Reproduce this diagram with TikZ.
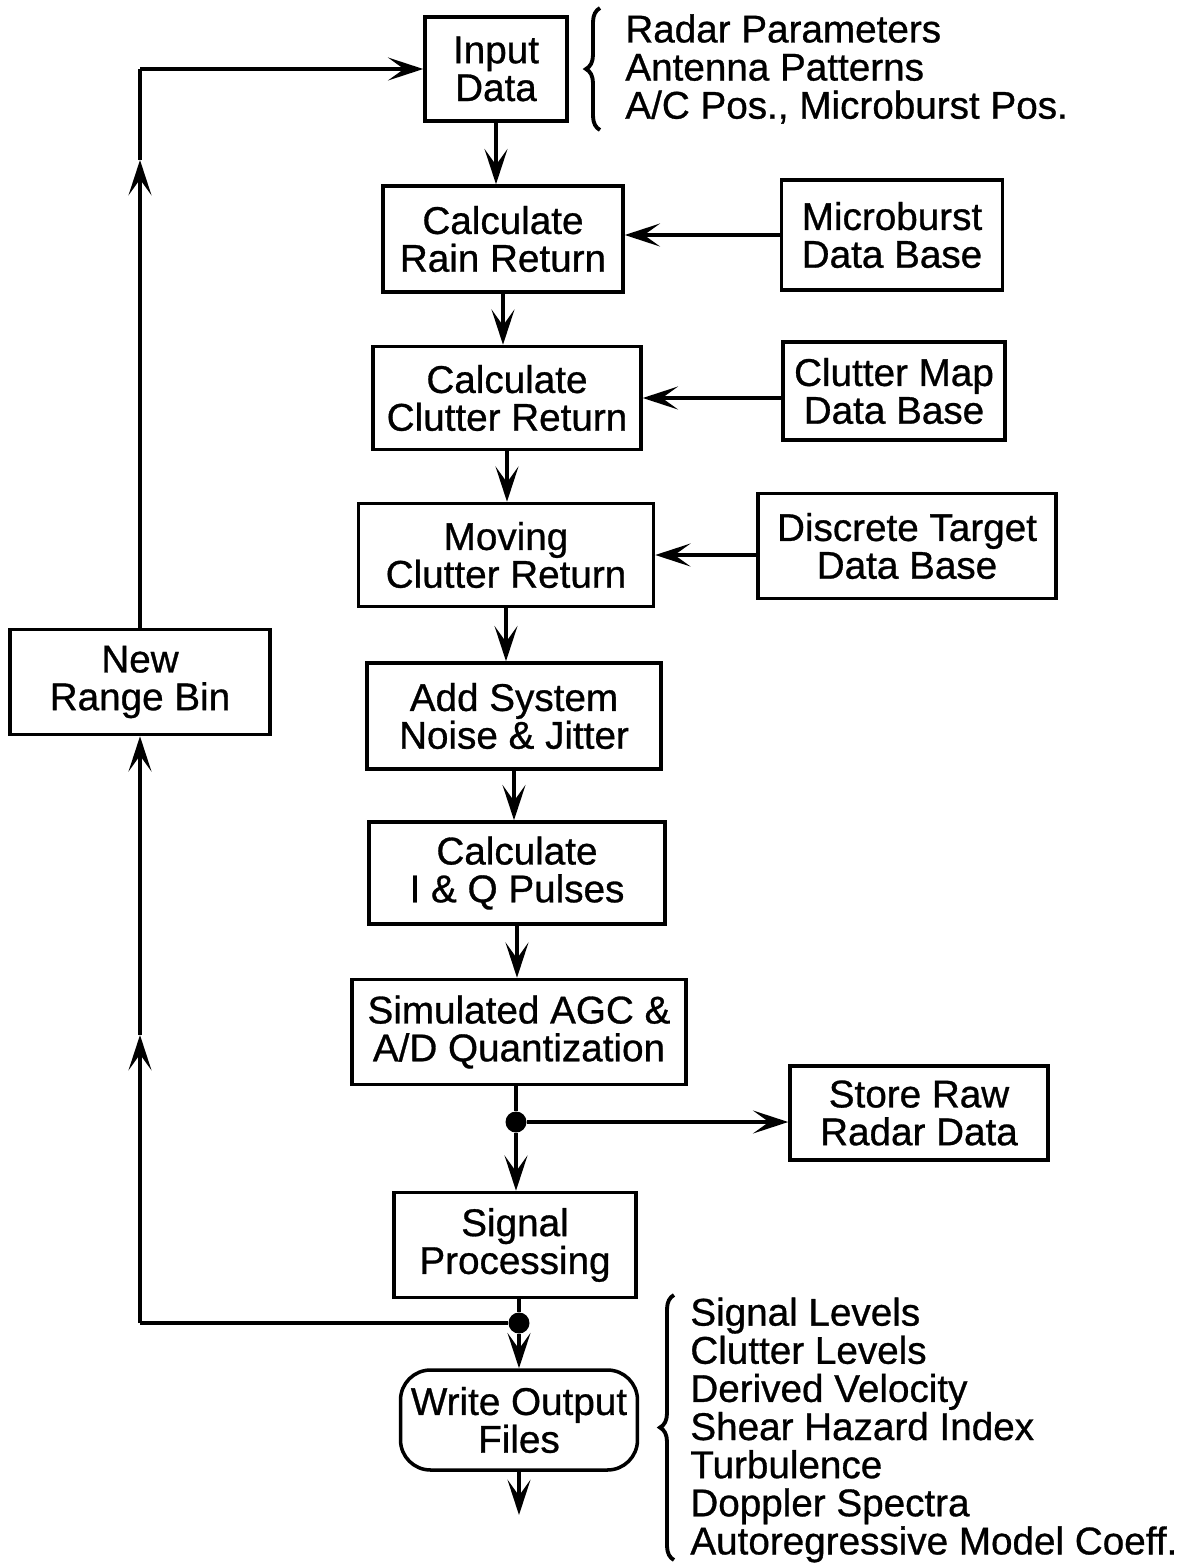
\documentclass[tikz,border=0pt]{standalone}
\usepackage{fontspec}
\setmainfont{Liberation Sans}[FakeBold=0.8]
\usetikzlibrary{arrows.meta,decorations.pathreplacing}

\begin{document}
\begin{tikzpicture}[x=0.02cm,y=-0.02cm,
	box/.style={draw,line width=2pt,align=center,inner sep=0pt,font={\fontsize{22}{21.5}\selectfont}},
	flow/.style={line width=2.5pt},
	tip/.style={flow,-{Stealth[length=20pt,width=13pt,inset=9pt]}},
	dot/.style={circle,fill,inner sep=0pt,minimum size=0.42cm},
	list/.style={anchor=west,align=left,inner sep=0pt,font={\fontsize{22}{21.7}\selectfont}},
	brace/.style={decorate,decoration={brace,amplitude=0.28cm},line width=2.2pt}]
		\useasboundingbox (0,0) rectangle (1195,1563);
		% main column
		\node[box,minimum width=2.84cm,minimum height=2.08cm] (indata) at (496,69) {Input\\Data};
		\node[box,minimum width=4.8cm,minimum height=2.12cm] (rain) at (503,239) {Calculate\\Rain Return};
		\node[box,minimum width=5.36cm,minimum height=2.06cm] (clutter) at (507,398) {Calculate\\Clutter Return};
		\node[box,minimum width=5.9cm,minimum height=2.06cm] (moving) at (506,555) {Moving\\Clutter Return};
		\node[box,minimum width=5.88cm,minimum height=2.12cm] (noise) at (514,716) {Add System\\Noise \& Jitter};
		\node[box,minimum width=5.92cm,minimum height=2.04cm] (iq) at (517,873) {Calculate\\I \& Q Pulses};
		\node[box,minimum width=6.68cm,minimum height=2.1cm] (agc) at (519,1032) {Simulated AGC \&\\A/D Quantization};
		\node[box,minimum width=4.84cm,minimum height=2.1cm] (sigproc) at (515,1245) {Signal\\Processing};
		\node[box,rounded corners=0.6cm,minimum width=4.74cm,minimum height=2cm] (output) at (519,1420) {Write Output\\Files};
		% data bases
		\node[box,minimum width=4.42cm,minimum height=2.2cm] (mbdb) at (892,235) {Microburst\\Data Base};
		\node[box,minimum width=4.44cm,minimum height=1.96cm] (cmdb) at (894,391) {Clutter Map\\Data Base};
		\node[box,minimum width=5.96cm,minimum height=2.1cm] (dtdb) at (907,546) {Discrete Target\\Data Base};
		\node[box,minimum width=5.16cm,minimum height=1.88cm] (store) at (919,1113) {Store Raw\\Radar Data};
		\node[box,minimum width=5.2cm,minimum height=2.1cm] (newbin) at (140,682) {New\\Range Bin};
		% lists
		\node[list] (inlist) at (625,69) {Radar Parameters\\Antenna Patterns\\A/C Pos., Microburst Pos.};
		\node[list] (outlist) at (690,1430) {Signal Levels\\Clutter Levels\\Derived Velocity\\Shear Hazard Index\\Turbulence\\Doppler Spectra\\Autoregressive Model Coeff.};
		\draw[brace] (600,130) -- (600,8);
		\draw[brace] (674,1560) -- (674,1295);
		% flow down
		\draw[tip] (indata.south) -- (indata.south |- rain.north);
		\draw[tip] (rain.south) -- (rain.south |- clutter.north);
		\draw[tip] (clutter.south) -- (clutter.south |- moving.north);
		\draw[tip] (moving.south) -- (moving.south |- noise.north);
		\draw[tip] (noise.south) -- (noise.south |- iq.north);
		\draw[tip] (iq.south) -- (iq.south |- agc.north);
		\node[dot] (j1) at (516,1122) {};
		\draw[flow] (agc.south -| j1) -- (j1);
		\draw[tip] (j1) -- (j1 |- sigproc.north);
		\draw[tip] (j1) -- (j1 -| store.west);
		\node[dot] (j2) at (519,1323) {};
		\draw[flow] (sigproc.south -| j2) -- (j2);
		\draw[tip] (j2) -- (j2 |- output.north);
		\coordinate (outend) at (519,1515);
		\draw[tip] (output.south) -- (outend);
		% data bases in
		\draw[tip] (mbdb.west) -- (mbdb.west -| rain.east);
		\draw[tip] (cmdb.west |- clutter.east) -- (clutter.east);
		\draw[tip] (dtdb.west |- moving.east) -- (moving.east);
		% loop back
		\coordinate (lowc) at (newbin.south |- j2);
		\coordinate (lowm) at (140,1035);
		\coordinate (topc) at (newbin.north |- indata.west);
		\coordinate (topm) at (140,160);
		\draw[flow] (j2) -- (lowc);
		\draw[tip] (lowc) -- (lowm);
		\draw[tip] (lowm) -- (newbin.south);
		\draw[tip] (newbin.north) -- (topm);
		\draw[flow] (topm) -- (topc);
		\draw[tip] (topc) -- (indata.west);
\end{tikzpicture}
\end{document}
